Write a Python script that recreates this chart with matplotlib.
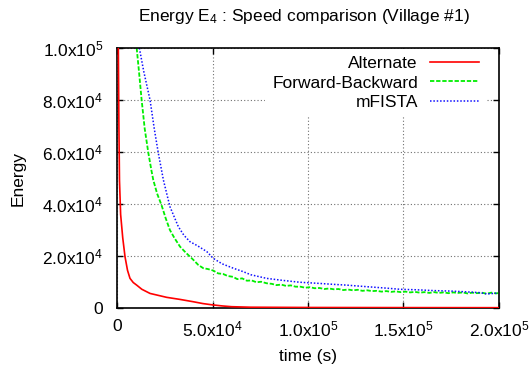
import matplotlib
matplotlib.use("Agg")
import matplotlib.pyplot as plt
from matplotlib.ticker import FixedLocator, FixedFormatter

plt.rcParams['font.family'] = ['Liberation Sans', 'DejaVu Sans']
plt.rcParams['mathtext.fontset'] = 'custom'
plt.rcParams['mathtext.rm'] = 'Liberation Sans'
plt.rcParams['mathtext.it'] = 'Liberation Sans'
plt.rcParams['mathtext.default'] = 'regular'

# Alternate method: time (s) vs energy
alt_t = [0, 400, 700, 1000, 1300, 1900, 3000, 4200, 5500, 6800, 8500, 10300,
         13000, 17300, 26000, 33000, 40000, 45000, 50000, 55000, 60000, 70000,
         100000, 150000, 200000]
alt_e = [400000, 150000, 100000, 70000, 49000, 36000, 27000, 19700, 14500, 11400,
         9800, 8800, 7200, 5600, 4100, 3300, 2400, 1700, 1200, 800, 500, 300,
         200, 150, 120]

# Forward-Backward: time (s) vs energy
fb_t = [10300, 11500, 12900, 14500, 16400, 18000, 19000, 21000, 23300, 25500,
        27700, 30000, 33000, 36000, 40000, 42500, 45200, 47500, 50400, 53000,
        55500, 58000, 60700, 63000, 65500, 68000, 70500, 73000, 75500, 78400,
        81000, 83500, 86000, 88500, 91000, 93500, 96000, 98500, 101000, 103500,
        106000, 108500, 111000, 113500, 116000, 118500, 121000, 123500, 126000,
        128500, 131000, 133500, 136000, 138500, 141000, 143500, 146000, 148500,
        151000, 153500, 156000, 158500, 161000, 163500, 166000, 168500, 171000,
        173500, 176000, 178500, 181000, 183500, 186000, 188500, 191000, 193500,
        196000, 198500, 200000]
fb_e = [100000, 91000, 80000, 69000, 59700, 53000, 49200, 44000, 39600, 34500,
        30000, 27000, 23600, 21300, 18500, 16600, 15300, 15000, 14400, 13300,
        13100, 12300, 12000, 11100, 11400, 10500, 10600, 9900, 10100, 9500,
        9300, 8800, 9000, 8500, 8700, 8200, 8200, 7800, 8000, 7600,
        7700, 7300, 7500, 7200, 7300, 6900, 7100, 6800, 7000,
        6600, 6800, 6500, 6600, 6300, 6500, 6200, 6400, 6100,
        6300, 6000, 6200, 5900, 6100, 5800, 6100, 5800, 6000,
        5700, 6000, 5800, 6000, 5600, 5900, 5700, 5900, 5500,
        5900, 5600, 5800]

# mFISTA: time (s) vs energy
mf_t = [11700, 14000, 17300, 19500, 21600, 24300, 27700, 32100, 35000, 38200,
        42000, 47000, 50400, 55000, 60900, 66000, 70000, 78300, 87000, 95800,
        105000, 113200, 120200, 130700, 140000, 148200, 157000, 165600, 175000,
        183100, 190000, 193600, 198800]
mf_e = [100000, 91000, 80000, 69000, 59700, 49200, 39000, 31300, 28000, 25500,
        24000, 21700, 19100, 17000, 15300, 14000, 12800, 11400, 10600, 9900,
        9500, 9100, 8800, 8200, 7700, 7200, 7000, 6700, 6500,
        6200, 5900, 5400, 5700]

x_ticks = [0, 50000, 100000, 150000, 200000]
x_labels = ['0', '5.0x10$^{4}$', '1.0x10$^{5}$', '1.5x10$^{5}$', '2.0x10$^{5}$']
y_ticks = [0, 20000, 40000, 60000, 80000, 100000]
y_labels = ['0', '2.0x10$^{4}$', '4.0x10$^{4}$', '6.0x10$^{4}$', '8.0x10$^{4}$',
            '1.0x10$^{5}$']

FS = 12.5

fig = plt.figure(figsize=(5.31, 3.67), dpi=100)
ax = fig.add_axes([117 / 531, 1 - 308 / 367, 382 / 531, 260 / 367])

ax.plot(alt_t, alt_e, color='#ff0000', lw=1.2, label='Alternate', zorder=3)
ax.plot(fb_t, fb_e, color='#00ee00', lw=1.3, dashes=(2.4, 1.0),
        label='Forward-Backward', zorder=2)
ax.plot(mf_t, mf_e, color='#1010ff', lw=1.1, dashes=(1.0, 1.2),
        label='mFISTA', zorder=2)

ax.set_xlim(0, 200000)
ax.set_ylim(0, 100000)
ax.xaxis.set_major_locator(FixedLocator(x_ticks))
ax.xaxis.set_major_formatter(FixedFormatter(x_labels))
ax.yaxis.set_major_locator(FixedLocator(y_ticks))
ax.yaxis.set_major_formatter(FixedFormatter(y_labels))

ax.tick_params(direction='in', length=4, width=1, top=True, right=True,
               labelsize=FS)
ax.tick_params(axis='y', pad=10)
ax.tick_params(axis='x', pad=8)
ax.grid(True, color='#707070', lw=0.8, linestyle=(0, (1, 2)))
for s in ax.spines.values():
    s.set_linewidth(1.2)

ax.set_xlabel('time (s)', fontsize=FS, labelpad=7)
ax.set_ylabel('Energy', fontsize=FS, labelpad=12)
fig.text(304 / 531, 1 - 17 / 367, 'Energy E$_4$ : Speed comparison (Village #1)',
         ha='center', va='center', fontsize=FS)

leg = ax.legend(loc='upper right', bbox_to_anchor=(0.965, 0.995), markerfirst=False,
                fontsize=FS, frameon=True, fancybox=False, framealpha=1,
                edgecolor='none', facecolor='white', handlelength=2.8,
                handletextpad=0.7, labelspacing=0.23, borderpad=0.4,
                borderaxespad=0)

fig.savefig('out.png', dpi=100)
